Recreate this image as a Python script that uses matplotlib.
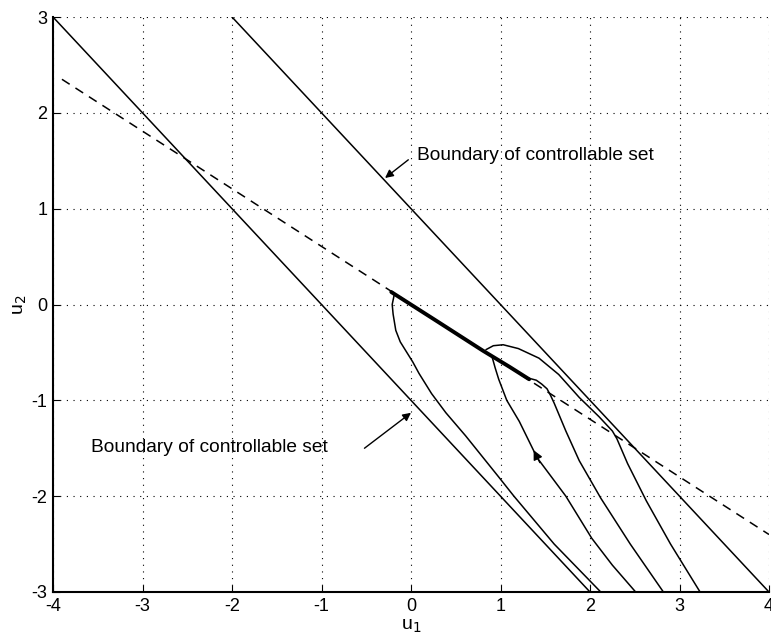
import matplotlib
matplotlib.use("Agg")
import matplotlib.pyplot as plt
import numpy as np

plt.rcParams['font.family'] = ['Liberation Sans', 'DejaVu Sans']

# Axis ticks
x_ticks = [-4, -3, -2, -1, 0, 1, 2, 3, 4]
y_ticks = [-3, -2, -1, 0, 1, 2, 3]

# Boundaries of controllable set (solid)
upper_u1 = [-2.0, 4.0]
upper_u2 = [3.0, -3.0]
lower_u1 = [-4.0, 2.0]
lower_u2 = [3.0, -3.0]

# Dashed line
dash_u1 = [-3.9, 4.0]
dash_u2 = [2.35, -2.4]

# Thick segment on dashed line
thick_u1 = [-0.22, 0.3, 0.8, 1.1, 1.32]
thick_u2 = [0.13, -0.18, -0.48, -0.65, -0.78]

# Trajectories
traj1_u1 = [-0.19, -0.21, -0.2, -0.17, -0.12, -0.06, 0.02, 0.09, 0.23, 0.39, 0.61, 0.98, 1.15, 1.6, 2.12]
traj1_u2 = [0.09, 0.0, -0.1, -0.27, -0.39, -0.48, -0.6, -0.72, -0.93, -1.13, -1.37, -1.8, -2.0, -2.5, -3.0]

traj2_u1 = [0.91, 0.94, 0.98, 1.07, 1.21, 1.41, 1.57, 1.73, 2.02, 2.25, 2.51]
traj2_u2 = [-0.56, -0.66, -0.78, -1.0, -1.22, -1.6, -1.8, -2.0, -2.44, -2.72, -3.0]

traj3_u1 = [0.84, 0.92, 1.03, 1.2, 1.43, 1.65, 1.88, 2.1, 2.25, 2.3, 2.42, 2.63, 2.9, 3.23]
traj3_u2 = [-0.47, -0.43, -0.42, -0.46, -0.56, -0.73, -0.97, -1.17, -1.32, -1.4, -1.66, -2.05, -2.5, -3.0]

traj4_u1 = [1.32, 1.4, 1.46, 1.52, 1.56, 1.6, 1.73, 1.88, 2.12, 2.45, 2.82]
traj4_u2 = [-0.77, -0.79, -0.83, -0.88, -0.95, -1.03, -1.32, -1.63, -2.02, -2.5, -3.0]

# Arrow on trajectory 2
traj_arrow_tail = (1.44, -1.65)
traj_arrow_head = (1.37, -1.52)

# Annotations
label_text = "Boundary of controllable set"
ann1_text_pos = (0.07, 1.55)
ann1_tail = (-0.03, 1.51)
ann1_head = (-0.29, 1.32)
ann2_text_pos = (-3.57, -1.49)
ann2_tail = (-0.52, -1.5)
ann2_head = (0.0, -1.13)

fig = plt.figure(figsize=(7.71, 6.37), dpi=100)
ax = fig.add_axes([53/771, 45/637, 716/771, 575/637])

ax.plot(upper_u1, upper_u2, color='black', lw=1.1)
ax.plot(lower_u1, lower_u2, color='black', lw=1.1)
ax.plot(dash_u1, dash_u2, color='black', lw=1.1, linestyle=(0, (6, 4.5)))
ax.plot(thick_u1, thick_u2, color='black', lw=2.8, solid_capstyle='round')
for u1, u2 in [(traj1_u1, traj1_u2), (traj2_u1, traj2_u2),
               (traj3_u1, traj3_u2), (traj4_u1, traj4_u2)]:
    ax.plot(u1, u2, color='black', lw=1.1)

ax.annotate('', xy=traj_arrow_head, xytext=traj_arrow_tail,
            arrowprops=dict(arrowstyle='-|>', color='black', lw=1.0,
                            mutation_scale=14, shrinkA=0, shrinkB=0))

ax.annotate('', xy=ann1_head, xytext=ann1_tail,
            arrowprops=dict(arrowstyle='-|>', color='black', lw=1.0,
                            mutation_scale=12, shrinkA=0, shrinkB=0))
ax.text(*ann1_text_pos, label_text, fontsize=13.8, va='center', ha='left')
ax.annotate('', xy=ann2_head, xytext=ann2_tail,
            arrowprops=dict(arrowstyle='-|>', color='black', lw=1.0,
                            mutation_scale=12, shrinkA=0, shrinkB=0))
ax.text(*ann2_text_pos, label_text, fontsize=13.8, va='center', ha='left')

ax.set_xlim(-4, 4)
ax.set_ylim(-3, 3)
ax.set_xticks(x_ticks)
ax.set_yticks(y_ticks)
ax.set_xticklabels([str(t) for t in x_ticks], fontsize=13)
ax.set_yticklabels([str(t) for t in y_ticks], fontsize=13)
ax.tick_params(direction='in', length=5, width=0.8, pad=4)
ax.grid(True, color='black', linestyle=(0, (1, 5)), linewidth=0.8)
ax.spines['top'].set_visible(False)
ax.spines['right'].set_visible(False)
ax.spines['left'].set_linewidth(1.5)
ax.spines['bottom'].set_linewidth(1.5)
ax.set_xlabel('u$_1$', fontsize=14, labelpad=2)
ax.set_ylabel('u$_2$', fontsize=14, labelpad=2)

fig.savefig('out.png', dpi=100)
